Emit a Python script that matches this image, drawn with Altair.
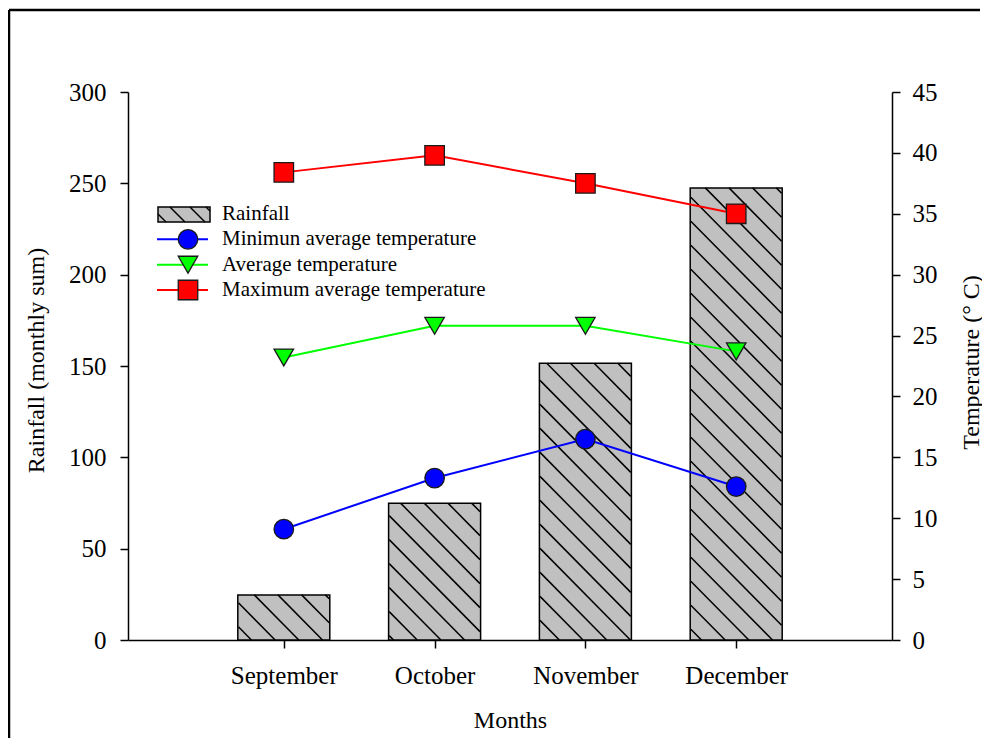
import json
import altair as alt
import pandas as pd

months = ["September", "October", "November", "December"]
rainfall = [24.7, 74.8, 151.5, 247.5]
series_names = ["Minimun average temperature", "Average temperature", "Maximum average temperature"]
temp_min = [9.1, 13.3, 16.5, 12.6]
temp_avg = [23.2, 25.8, 25.8, 23.7]
temp_max = [38.4, 39.8, 37.5, 35.0]
series_colors = ["#0000FF", "#00FF00", "#FF0000"]
series_shapes = ["circle", "triangle-down", "square"]

W, H = 764, 548
X_DOMAIN = [0, 5]
Y_RAIN = [0, 300]
Y_TEMP = [0, 45]
FONT = "Liberation Serif"
BAR_PX = 92
HATCH_STEP = 24

pos = list(range(1, len(months) + 1))
rain_df = pd.DataFrame({"pos": pos, "month": months, "rainfall": rainfall})

temp_rows = []
for name, vals in zip(series_names, [temp_min, temp_avg, temp_max]):
    for p, m, v in zip(pos, months, vals):
        temp_rows.append({"pos": p, "month": m, "series": name, "temp": v})
temp_df = pd.DataFrame(temp_rows)

# hatch pattern (diagonal lines) inside each bar, derived from the bar values via scale ratios
px_per_x = W / (X_DOMAIN[1] - X_DOMAIN[0])
px_per_y = H / (Y_RAIN[1] - Y_RAIN[0])
hatch = []
for p, v in zip(pos, rainfall):
    xl = p * px_per_x - BAR_PX / 2
    xr = xl + BAR_PX
    hp = v * px_per_y
    c = (int(xl // HATCH_STEP) + 1) * HATCH_STEP
    while c < xr + hp:
        xa = max(xl, c - hp)
        xb = min(xr, c)
        if xb - xa > 0.5:
            hatch.append({"x": xa / px_per_x, "y": (c - xa) / px_per_y,
                          "x2": xb / px_per_x, "y2": (c - xb) / px_per_y})
        c += HATCH_STEP
hatch_df = pd.DataFrame(hatch)

xscale = alt.Scale(domain=X_DOMAIN, nice=False, zero=False)
label_expr = "%s[datum.value - 1]" % json.dumps(months)
x_axis = alt.Axis(values=pos, labelExpr=label_expr, title="Months", grid=False,
                  tickSize=8, labelPadding=27, labelBaseline="middle",
                  titleY=80, titleBaseline="middle")

bars = alt.Chart(rain_df).mark_bar(size=BAR_PX, color="#C0C0C0", stroke="black", strokeWidth=1.5).encode(
    x=alt.X("pos:Q", scale=xscale, axis=x_axis),
    y=alt.Y("rainfall:Q", scale=alt.Scale(domain=Y_RAIN, nice=False),
            axis=alt.Axis(orient="left", values=list(range(0, 301, 50)), grid=False,
                          title="Rainfall (monthly sum)", tickSize=8, labelPadding=14,
                          titleAngle=270, titleX=-92, titleY=H / 2 - 6, titleBaseline="middle",
                          titleAlign="center")),
)

hatch_layer = alt.Chart(hatch_df).mark_rule(color="black", strokeWidth=1.5).encode(
    x=alt.X("x:Q", scale=xscale, axis=x_axis),
    x2="x2:Q",
    y=alt.Y("y:Q", scale=alt.Scale(domain=Y_RAIN, nice=False), axis=None),
    y2="y2:Q",
)

color_scale = alt.Scale(domain=series_names, range=series_colors)
shape_scale = alt.Scale(domain=series_names, range=series_shapes)

lines = alt.Chart(temp_df).mark_line(strokeWidth=2).encode(
    x=alt.X("pos:Q", scale=xscale, axis=x_axis),
    y=alt.Y("temp:Q", scale=alt.Scale(domain=Y_TEMP, nice=False), axis=None),
    color=alt.Color("series:N", scale=color_scale, legend=None),
    detail="series:N",
)

points = alt.Chart(temp_df).mark_point(filled=True, size=380, stroke="#1a1a1a", strokeWidth=1.3, opacity=1).encode(
    x=alt.X("pos:Q", scale=xscale, axis=x_axis),
    y=alt.Y("temp:Q", scale=alt.Scale(domain=Y_TEMP, nice=False),
            axis=alt.Axis(orient="right", values=list(range(0, 46, 5)), grid=False,
                          title="Temperature (° C)", tickSize=8, labelPadding=12,
                          titleAngle=270, titleX=79, titleY=H / 2 - 4, titleBaseline="middle",
                          titleAlign="center")),
    fill=alt.Fill("series:N", scale=color_scale, legend=None),
    shape=alt.Shape("series:N", scale=shape_scale, legend=None),
)

# legend
legend_df = pd.DataFrame({"row": [0, 1, 2, 3], "label": ["Rainfall"] + series_names,
                          "series": [""] + series_names})
leg_y = alt.Y("row:Q", scale=alt.Scale(domain=[0, 3], range=[122, 198]), axis=None)
leg_temp = legend_df[legend_df["row"] > 0]

leg_rule = alt.Chart(leg_temp).mark_rule(strokeWidth=2).encode(
    x=alt.value(29), x2=alt.value(80), y=leg_y,
    color=alt.Color("series:N", scale=color_scale, legend=None),
)
leg_pts = alt.Chart(leg_temp).mark_point(filled=True, size=380, stroke="#1a1a1a", strokeWidth=1.3, opacity=1).encode(
    x=alt.value(60), y=leg_y,
    fill=alt.Fill("series:N", scale=color_scale, legend=None),
    shape=alt.Shape("series:N", scale=shape_scale, legend=None),
)
leg_text = alt.Chart(legend_df).mark_text(align="left", baseline="middle", font=FONT, fontSize=21, color="black").encode(
    x=alt.value(94), y=leg_y, text="label:N",
)
leg_rect = alt.Chart(legend_df.head(1)).mark_rect(color="#C0C0C0", stroke="black", strokeWidth=1.5).encode(
    x=alt.value(30), x2=alt.value(82), y=alt.value(115), y2=alt.value(130),
)
leg_hatch = [
    alt.Chart(legend_df.head(1)).mark_rule(color="black", strokeWidth=1.5).encode(
        x=alt.value(a), x2=alt.value(b), y=alt.value(ya), y2=alt.value(yb))
    for a, b, ya, yb in [(30, 38, 122, 130), (42, 57, 115, 130), (62, 77, 115, 130), (78, 82, 115, 119)]
]

frame_top = alt.Chart(legend_df.head(1)).mark_rule(color="black", strokeWidth=2.5).encode(
    x=alt.value(-119), x2=alt.value(852), y=alt.value(-82))
frame_left = alt.Chart(legend_df.head(1)).mark_rule(color="black", strokeWidth=2.5).encode(
    x=alt.value(-119), y=alt.value(-82), y2=alt.value(720))

chart = alt.layer(
    frame_top, frame_left, bars, hatch_layer, lines, points,
    leg_rect, *leg_hatch, leg_rule, leg_pts, leg_text,
).resolve_scale(y="independent").properties(
    width=W, height=H,
    autosize=alt.AutoSizeParams(type="none"),
    padding={"left": 120, "top": 84, "right": 90, "bottom": 98},
    background="white",
).configure_view(stroke=None).configure_axis(
    labelFont=FONT, titleFont=FONT, labelFontSize=25, titleFontSize=24,
    labelColor="black", titleColor="black", titleFontWeight="normal",
    domainColor="black", tickColor="black", domainWidth=1.5, tickWidth=1.5,
)

chart.save("out.html", embed_options={"renderer": "svg", "actions": False})
